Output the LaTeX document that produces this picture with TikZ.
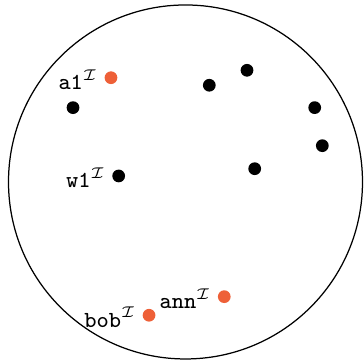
\documentclass[tikz,border=0pt]{standalone}
\usepackage{amsmath}
\usepackage{amssymb}
\usepackage{xcolor}
\usepackage{tikz}
\definecolor{indiv}{RGB}{238,96,56}
\tikzset{
  elem/.style={circle,fill=black,inner sep=0pt,minimum size=4.1pt},
  named/.style={elem,fill=indiv},
  tag/.style={left,font=\fontsize{7.4pt}{9pt}\selectfont,inner xsep=1.7pt,yshift=-0.6pt}
}

\begin{document}
\begin{tikzpicture}
\useasboundingbox (-2.096,-2.011) rectangle (2.017,2.056);
\node at (0,0) (dom)[draw,circle,minimum size=4cm,inner sep=0pt]{};

% named individuals
\node at (-0.842,1.178) (a1)[named]{};
\node at (0.438,-1.296) (ann)[named]{};
\node at (-0.412,-1.506) (bob)[named]{};

% other elements
\node at (-0.755,0.068) (w1)[elem]{};
\node at (-1.271,0.840) (e1)[elem]{};
\node at (0.269,1.093) (e2)[elem]{};
\node at (0.695,1.262) (e3)[elem]{};
\node at (1.460,0.840) (e4)[elem]{};
\node at (1.546,0.410) (e5)[elem]{};
\node at (0.782,0.150) (e6)[elem]{};

\node at (a1.west) (a1txt)[tag]{\texttt{a1}$^{\mathcal{I}}$};
\node at (w1.west) (w1txt)[tag]{\texttt{w1}$^{\mathcal{I}}$};
\node at (ann.west) (anntxt)[tag]{\texttt{ann}$^{\mathcal{I}}$};
\node at (bob.west) (bobtxt)[tag]{\texttt{bob}$^{\mathcal{I}}$};
\end{tikzpicture}
\end{document}
